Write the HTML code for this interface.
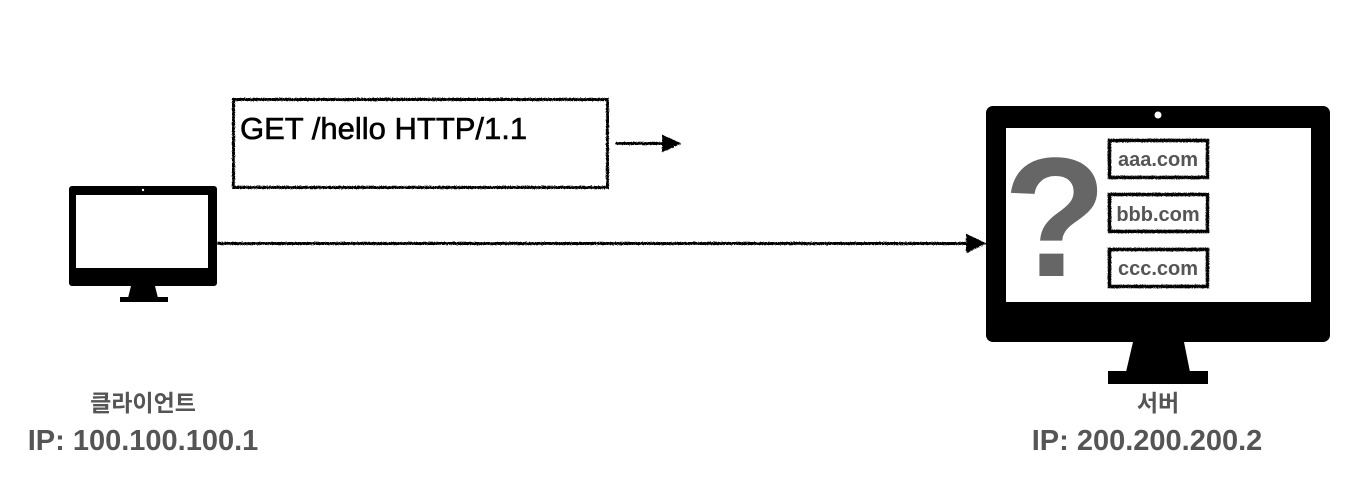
<!DOCTYPE html>
<html><head><meta charset="utf-8"><style>
body{margin:0;background:#fff;}
svg{display:block}
text{font-family:"Liberation Sans","Noto Sans CJK KR",sans-serif;}
</style></head><body>
<svg width="1357" height="502" viewBox="0 0 1357 502">
<defs><filter id="r"><feTurbulence baseFrequency="0.9" numOctaves="2" seed="3"/><feDisplacementMap in="SourceGraphic" scale="2"/></filter></defs>
<!-- small monitor -->
<rect x="69" y="186" width="148" height="100" rx="3" fill="#000"/>
<rect x="76" y="195" width="132" height="73" fill="#fff"/>
<circle cx="143" cy="190" r="1.2" fill="#fff"/>
<polygon points="131,286 155,286 158,298 128,298" fill="#000"/>
<rect x="120" y="297" width="48" height="5" fill="#000"/>
<!-- big monitor -->
<rect x="986" y="106" width="344" height="236" rx="7" fill="#000"/>
<rect x="1006" y="128" width="305" height="174" fill="#fff"/>
<circle cx="1158" cy="115" r="3.5" fill="#fff"/>
<polygon points="1133,342 1184,342 1190,372 1126,372" fill="#000"/>
<rect x="1108" y="371" width="100" height="13" fill="#000"/>
<text x="1055" y="276" font-size="170" font-weight="bold" fill="#666" text-anchor="middle">?</text>
<g filter="url(#r)" fill="#fff" stroke="#000" stroke-width="3.5">
<rect x="1109" y="140" width="98" height="37"/>
<rect x="1109" y="194" width="98" height="37"/>
<rect x="1109" y="249" width="98" height="37"/>
<rect x="233" y="99" width="374" height="88" stroke-width="3"/>
</g>
<g font-size="20" font-weight="bold" fill="#555" text-anchor="middle">
<text x="1158" y="166">aaa.com</text>
<text x="1158" y="221">bbb.com</text>
<text x="1158" y="275">ccc.com</text>
</g>
<text x="240" y="139" font-size="31" fill="#000" stroke="#000" stroke-width="0.6">GET /hello HTTP/1.1</text>
<g filter="url(#r)" stroke="#000" stroke-width="3" fill="#000">
<line x1="615" y1="143" x2="665" y2="143"/>
<polygon points="662,135 680,143 662,151" stroke-width="1"/>
<line x1="217" y1="243" x2="970" y2="243"/>
<polygon points="966,234 985,243 966,252" stroke-width="1"/>
</g>
<g font-weight="bold" fill="#555" text-anchor="middle">
<text x="143" y="411" font-size="23">클라이언트</text>
<text x="143" y="450" font-size="29">IP: 100.100.100.1</text>
<text x="1158" y="411" font-size="23">서버</text>
<text x="1147" y="450" font-size="29">IP: 200.200.200.2</text>
</g>
</svg>
</body></html>
